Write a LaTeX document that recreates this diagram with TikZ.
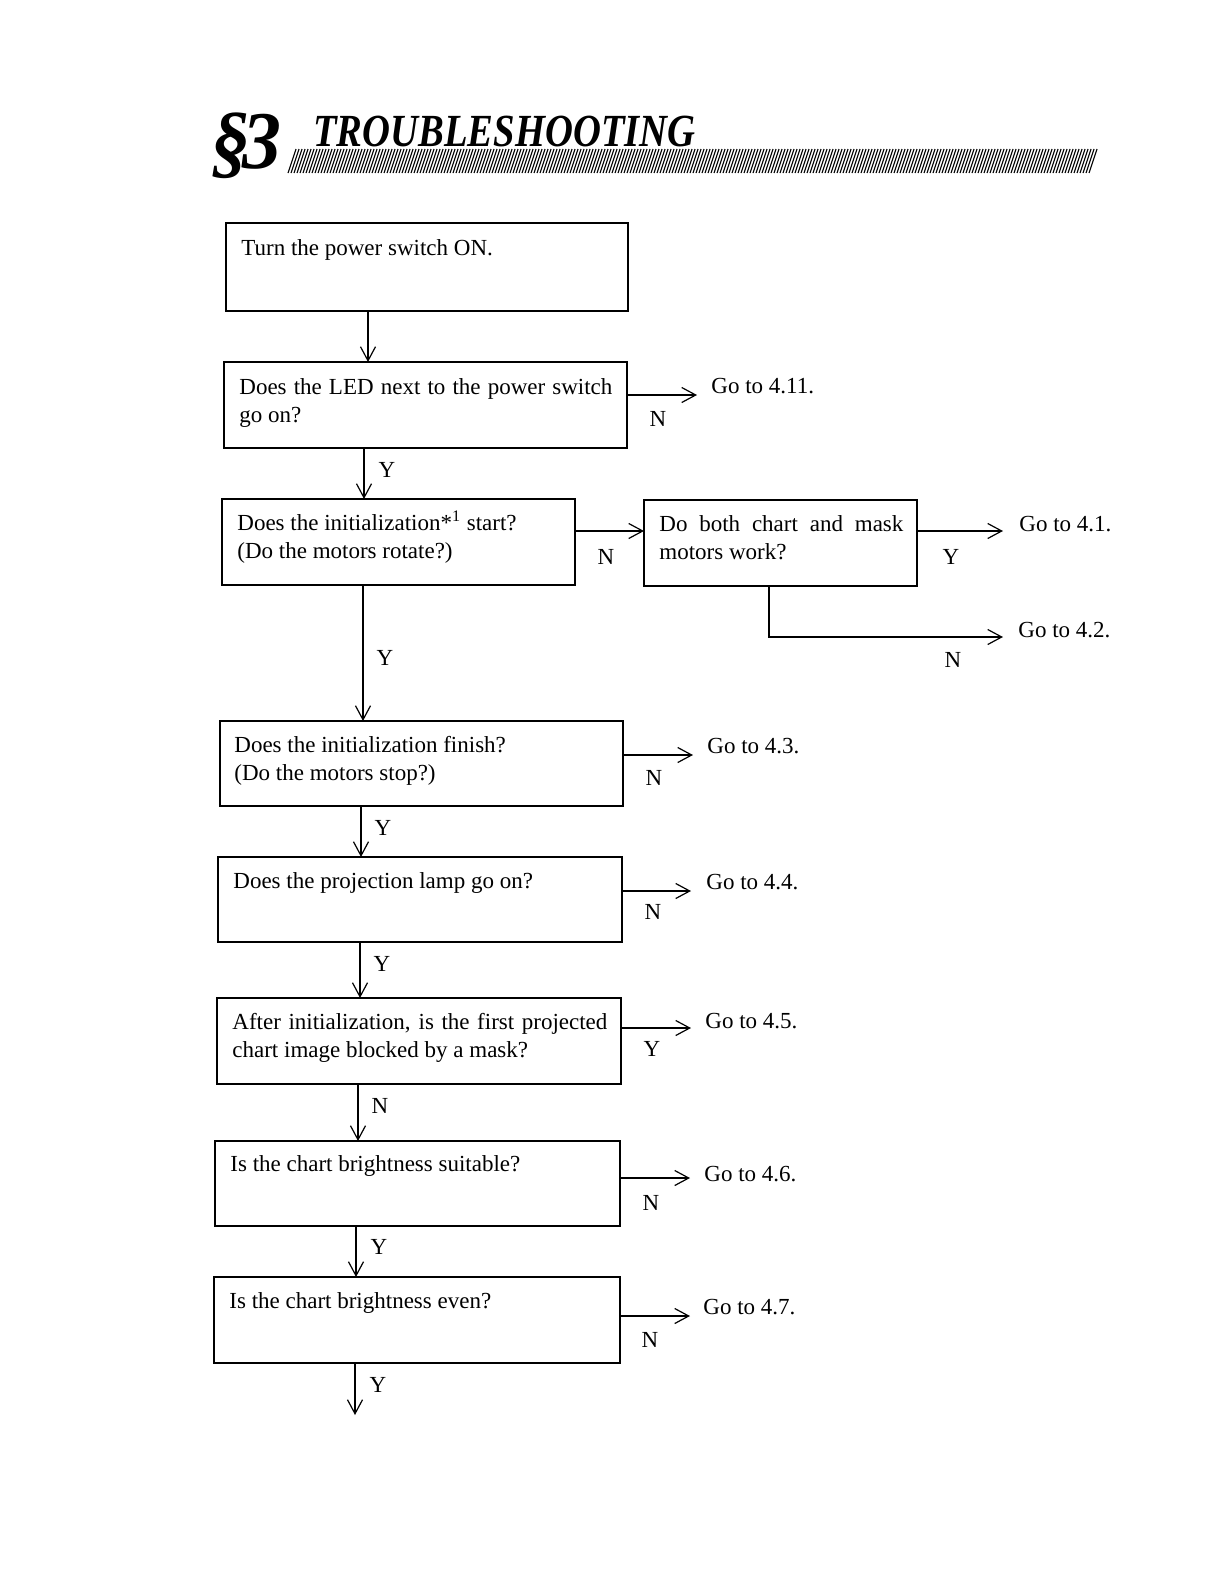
\documentclass[tikz,border=0pt]{standalone}
\usepackage{fontspec}
\setmainfont{Liberation Serif}
\usetikzlibrary{arrows.meta}
\begin{document}
\begin{tikzpicture}[x=0.5pt,y=-0.5pt,
  box/.style 2 args={draw, line width=0.9pt, minimum width=#1, minimum height=#2, inner sep=0pt, outer sep=0pt},
  txt/.style={anchor=base west, inner sep=0pt, font=\fontsize{11.5}{14}\selectfont},
  lbl/.style={inner sep=0pt, font=\fontsize{11.5}{14}\selectfont},
  arr/.style={line width=0.7pt, -{Straight Barb[length=7pt,width=7.5pt,line width=0.6pt]}},
  hatch/.style={line width=0.55pt}]
\useasboundingbox[fill=white] (0,0) rectangle (1223,1580);

% header
\node[anchor=base west, inner sep=0pt, xscale=0.95, font=\fontsize{41}{41}\selectfont\bfseries\itshape] (sec) at (211,168) {§\kern-4pt3};
\node[anchor=base west, inner sep=0pt, xscale=0.84, font=\fontsize{23}{23}\selectfont\bfseries\itshape] (title) at (313,146) {TROUBLESHOOTING};
\foreach \i in {0,...,267} \draw[hatch] ({288+3*\i},173) -- ({296+3*\i},149);

% boxes
\node[box={201pt}{44pt}] (b1) at (427,267) {};
\node[box={201.5pt}{43pt}] (b2) at (425.5,405) {};
\node[box={176.5pt}{43pt}] (b3) at (398.5,542) {};
\node[box={136.5pt}{43pt}] (b4) at (780.5,543) {};
\node[box={201.5pt}{42.5pt}] (b5) at (421.5,763.5) {};
\node[box={202pt}{42.5pt}] (b6) at (420,899.5) {};
\node[box={202pt}{43pt}] (b7) at (419,1041) {};
\node[box={202.5pt}{42.5pt}] (b8) at (417.5,1183.5) {};
\node[box={203pt}{43pt}] (b9) at (417,1320) {};

% box texts
\node[txt] (t1) at (241,255) {Turn the power switch ON.};
\node[txt] (t2a) at (239,394) {\makebox[186.5pt][s]{Does the LED next to the power switch}};
\node[txt] (t2b) at (239,422) {go on?};
\node[txt] (t3a) at (237,530) {Does the initialization*\textsuperscript{1} start?};
\node[txt] (t3b) at (237,558) {(Do the motors rotate?)};
\node[txt] (t4a) at (659,531) {\makebox[122pt][s]{Do both chart and mask}};
\node[txt] (t4b) at (659,559) {motors work?};
\node[txt] (t5a) at (234,752) {Does the initialization finish?};
\node[txt] (t5b) at (234,780) {(Do the motors stop?)};
\node[txt] (t6) at (233,888) {Does the projection lamp go on?};
\node[txt] (t7a) at (232,1029) {\makebox[187.5pt][s]{After initialization, is the first projected}};
\node[txt] (t7b) at (232,1057) {chart image blocked by a mask?};
\node[txt] (t8) at (230,1171) {Is the chart brightness suitable?};
\node[txt] (t9) at (229,1308) {Is the chart brightness even?};

% go-to texts
\node[txt] (g2) at (711,393) {Go to 4.11.};
\node[txt] (g41) at (1019,531) {Go to 4.1.};
\node[txt] (g42) at (1018,637) {Go to 4.2.};
\node[txt] (g5) at (707,753) {Go to 4.3.};
\node[txt] (g6) at (706,889) {Go to 4.4.};
\node[txt] (g7) at (705,1028) {Go to 4.5.};
\node[txt] (g8) at (704,1181) {Go to 4.6.};
\node[txt] (g9) at (703,1314) {Go to 4.7.};

% vertical connectors
\coordinate (s1) at ([xshift=71pt]b1.south west);
\coordinate (s2) at ([xshift=70pt]b2.south west);
\coordinate (s3) at ([xshift=70.5pt]b3.south west);
\coordinate (s5) at ([xshift=70.5pt]b5.south west);
\coordinate (s6) at ([xshift=71pt]b6.south west);
\coordinate (s7) at ([xshift=70.5pt]b7.south west);
\coordinate (s8) at ([xshift=70.5pt]b8.south west);
\coordinate (s9) at ([xshift=70.5pt]b9.south west);
\coordinate (e9) at (355,1415);
\coordinate (s4) at ([xshift=62.5pt]b4.south west);

\draw[arr] (s1) -- (s1 |- b2.north);
\draw[arr] (s2) -- (s2 |- b3.north);
\draw[arr] (s3) -- (s3 |- b5.north);
\draw[arr] (s5) -- (s5 |- b6.north);
\draw[arr] (s6) -- (s6 |- b7.north);
\draw[arr] (s7) -- (s7 |- b8.north);
\draw[arr] (s8) -- (s8 |- b9.north);
\draw[arr] (s9) -- (e9);

% horizontal connectors
\draw[arr] ([yshift=-1pt]b2.east |- g2.base) -- ([xshift=-7pt,yshift=-1pt]g2.base west);
\draw[arr] (b3.east |- g41.base) -- (b4.west |- g41.base);
\draw[arr] (b4.east |- g41.base) -- ([xshift=-8pt]g41.base west);
\draw[arr] (s4) |- ([xshift=-7.5pt]g42.base west);
\draw[arr] ([yshift=-1pt]b5.east |- g5.base) -- ([xshift=-7pt,yshift=-1pt]g5.base west);
\draw[arr] ([yshift=-1pt]b6.east |- g6.base) -- ([xshift=-7.5pt,yshift=-1pt]g6.base west);
\draw[arr] (b7.east |- g7.base) -- ([xshift=-7pt]g7.base west);
\draw[arr] ([yshift=1.5pt]b8.east |- g8.base) -- ([xshift=-7pt,yshift=1.5pt]g8.base west);
\draw[arr] ([yshift=-1pt]b9.east |- g9.base) -- ([xshift=-6.5pt,yshift=-1pt]g9.base west);

% Y/N labels
\node[lbl] (l2) at (387,470) {Y};
\node[lbl] (l3) at (385,658) {Y};
\node[lbl] (l5) at (383,828) {Y};
\node[lbl] (l6) at (382,964) {Y};
\node[lbl] (l7) at (380,1106) {N};
\node[lbl] (l8) at (379,1247) {Y};
\node[lbl] (l9) at (378,1385) {Y};
\node[lbl] (r2) at (658,419) {N};
\node[lbl] (r3) at (606,557) {N};
\node[lbl] (r41) at (951,557) {Y};
\node[lbl] (r42) at (953,660) {N};
\node[lbl] (r5) at (654,778) {N};
\node[lbl] (r6) at (653,912) {N};
\node[lbl] (r7) at (652,1049) {Y};
\node[lbl] (r8) at (651,1203) {N};
\node[lbl] (r9) at (650,1340) {N};
\end{tikzpicture}
\end{document}
